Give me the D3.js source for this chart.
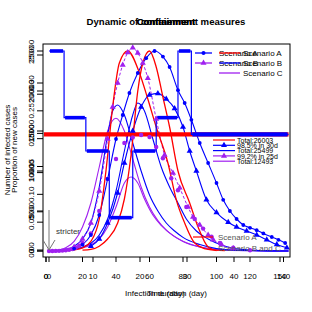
<!DOCTYPE html>
<html><head><meta charset="utf-8">
<script src="https://cdn.jsdelivr.net/npm/d3@7"></script>
<style>body{margin:0;background:#fff}svg{display:block}text{font-family:"Liberation Sans",Arial,sans-serif}</style>
</head><body>
<svg id="c" width="312" height="312"></svg>
<script>
// ---- data ----
const titles = ["Dynamic of containment measures", "Confinement", "Containment"];
const xTitles = ["Infection duration (day)", "Time (day)"];
const yTitles = ["Number of infected cases", "Proportion of new cases"];
const xTicks1 = [0,20,40,60,80,100,120,140];
const xTicks2 = [0,10,20,30,40];
const xTicks3 = [0,150];
const yTicksC = [0,5000,10000,15000,20000,25000];
const yTicksP = [0,0.05,0.10,0.15,0.20,0.25,0.30];
const yTicksD = [0,500,1000,1500,2000,2500];

const redA1 = [[10,50],[15,150],[20,400],[25,1200],[30,4000],[34,10000],[38,18000],[42,23500],[47,25000],[54,22250],[59,19000],[64,15500],[71,11000],[76,6400],[81,3500],[87,1000],[95,200],[105,50]];
const redA2 = [[20,100],[25,200],[30,600],[35,1500],[41,3500],[45,6500],[49,12000],[53,20000],[56,23500],[60,25000],[64,23000],[68,19250],[72,15500],[77,10000],[84,6000],[89,3000],[95,500],[100,50]];
const blueB1 = [[15,300],[20,800],[25,2000],[30,4500],[35,9000],[40,14000],[44,17000],[48,19750],[53,22250],[58,24100],[63,25000],[68,24300],[72,23000],[77,20100],[81,18500],[85,16400],[90,13500],[95,11000],[100,8500],[104,6400],[108,5000],[112,4000],[116,3250],[120,2900],[124,2600],[128,2200],[133,1750],[137,1400],[141,1000]];
const blueB2 = [[25,600],[30,1500],[35,3500],[41,7250],[45,11000],[50,15000],[55,18000],[60,19500],[65,19700],[70,19000],[75,17800],[80,15500],[84,12500],[88,10000],[94,6400],[100,4800],[107,3600],[112,3000],[118,2500],[124,2000],[130,1400],[136,800],[142,400]];
const purpleP1 = [[15,500],[20,1500],[25,3500],[30,7500],[35,14000],[38,18000],[41,21000],[44,23250],[47,24800],[50,25400],[53,24750],[56,23500],[59,21600],[64,16500],[69,12000],[74,9750],[78,7900],[83,5500],[86,4250],[90,3250],[95,2000],[98,1400],[103,800],[110,300]];
const purpleP2 = [[0,0],[2,0],[4,10],[6,20],[8,50],[10,90],[12,150],[14,250],[16,400],[18,650],[20,1000],[25,2200],[30,5000],[35,9000],[40,11500],[45,13500],[50,14200],[55,14500],[60,14250],[64,13000],[68,11600],[73,9100],[77,7600],[82,5500],[87,4000],[92,2800],[97,1800],[102,1000],[110,400],[120,100]];
const blueT1 = [[0,0],[10,200],[15,600],[20,1500],[25,3500],[30,8000],[35,14500],[38,17500],[41,18250],[45,17000],[50,13500],[55,10000],[60,7000],[65,5000],[70,3500],[75,2500],[80,1700],[90,800],[100,300],[110,100],[143,0]];
const blueT2 = [[0,0],[10,100],[20,500],[30,2000],[35,4000],[40,7500],[45,12500],[50,17000],[53,18500],[57,17500],[62,14000],[67,10500],[72,8000],[77,6000],[82,4000],[88,2500],[95,1500],[105,600],[115,200],[125,50],[143,0]];
const purpleU1 = [[0,0],[5,100],[10,400],[15,1200],[20,3000],[25,6000],[30,10500],[35,15000],[40,16600],[45,15000],[50,11500],[55,8000],[60,5500],[65,3800],[70,2600],[80,1200],[90,500],[100,200],[143,0]];
const purpleU2 = [[0,0],[10,100],[20,400],[30,1500],[35,3000],[40,5500],[45,8500],[49,9250],[53,8500],[57,6500],[62,4500],[67,3200],[75,1800],[85,800],[95,300],[105,100],[143,0]];
const steps = [[0,6],[9,4],[22,3],[36,1],[50,3],[64,4],[77,6],[85,3.5],[143,3.5]];
const threshold = [[-3,3.5],[143,3.5]];

const legendTop1 = ["Scenario A","Scenario B"];
const legendTop2 = ["Scenario A","Scenario B","Scenario C"];
const legendMid = ["Total:26003","98.5% in 30d","Total:25499","99.2% in 25d","Total:12493"];
const notes = ["Scenario A","Scenario B and C","stricter"];

// ---- drawing ----
const RED="#ff0000", BLUE="#0000ff", PURPLE="#a020f0";
const svg = d3.select("#c");
const x = d3.scaleLinear().domain([0,140]).range([49,283.5]);
const x2 = d3.scaleLinear().domain([0,40]).range([46,234]);
const x3 = d3.scaleLinear().domain([0,150]).range([46,280]);
const yC = d3.scaleLinear().domain([0,25000]).range([251,51]);
const yP = d3.scaleLinear().domain([0,0.3]).range([250,83]);
const yD = d3.scaleLinear().domain([0,2500]).range([251,55]);
const yL = d3.scaleLinear().domain([0,6]).range([251,51]);

const L = {l:43,r:290,t:44,b:257};
const plot = svg.append("g");
const line = d3.line().x(d=>x(d[0])).y(d=>yC(d[1])).curve(d3.curveMonotoneX);

const curves = [
  {d:purpleU1,c:PURPLE,w:1.1},{d:purpleU2,c:PURPLE,w:1.1},
  {d:blueT1,c:BLUE,w:1.1},{d:blueT2,c:BLUE,w:1.1},
  {d:purpleP1,c:PURPLE,w:1,dash:"3,2",m:"tri"},
  {d:purpleP2,c:PURPLE,w:0,m:"dot"},
  {d:blueB2,c:BLUE,w:1.1,m:"tri"},
  {d:blueB1,c:BLUE,w:1.1,m:"dot"},
  {d:redA1,c:RED,w:1.3},{d:redA2,c:RED,w:1.3}
];
curves.forEach(s=>{
  if(s.w>0) plot.append("path").attr("d",line(s.d)).attr("fill","none")
    .attr("stroke",s.c).attr("stroke-width",s.w).attr("stroke-dasharray",s.dash||null);
});
// threshold
plot.append("line").attr("x1",x(threshold[0][0])).attr("x2",x(threshold[1][0]))
  .attr("y1",yL(threshold[0][1])).attr("y2",yL(threshold[1][1]))
  .attr("stroke",RED).attr("stroke-width",4.2);
// containment step
const stepLine = d3.line().x(d=>x(d[0])).y(d=>yL(d[1])).curve(d3.curveStepAfter);
plot.append("path").attr("d",stepLine(steps)).attr("fill","none").attr("stroke",BLUE).attr("stroke-width",1.2);
for(let i=0;i<steps.length-1;i++){
  plot.append("line").attr("x1",x(steps[i][0])+1).attr("x2",x(steps[i+1][0])-1)
   .attr("y1",yL(steps[i][1])).attr("y2",yL(steps[i][1]))
   .attr("stroke",BLUE).attr("stroke-width",i===steps.length-2?4.4:3.6);
}
// markers
const tri = d3.symbol().type(d3.symbolTriangle).size(16);
curves.forEach(s=>{
  if(s.m==="dot") plot.selectAll(null).data(s.d).join("circle")
    .attr("cx",d=>x(d[0])).attr("cy",d=>yC(d[1])).attr("r",s.c===PURPLE?2.2:1.9).attr("fill",s.c);
  if(s.m==="tri") plot.selectAll(null).data(s.d).join("path").attr("d",tri)
    .attr("transform",d=>`translate(${x(d[0])},${yC(d[1])})`).attr("fill",s.c);
});

// box
svg.append("rect").attr("x",L.l).attr("y",L.t).attr("width",L.r-L.l).attr("height",L.b-L.t)
  .attr("fill","none").attr("stroke","#000").attr("stroke-width",1);

// x axes
function xAxis(sc,ticks){
  ticks.forEach(t=>{
    svg.append("line").attr("x1",sc(t)).attr("x2",sc(t)).attr("y1",L.b).attr("y2",L.b+5).attr("stroke","#000");
    svg.append("text").attr("x",sc(t)).attr("y",279).attr("text-anchor","middle").attr("font-size",8).text(t);
  });
}
xAxis(x,xTicks1); xAxis(x2,xTicks2); xAxis(x3,xTicks3);
// y axes (labels parallel to axis)
function yAxis(sc,ticks,fmt){
  ticks.forEach(t=>{
    svg.append("line").attr("x1",L.l-6).attr("x2",L.l).attr("y1",sc(t)).attr("y2",sc(t)).attr("stroke","#000");
    svg.append("text").attr("transform",`translate(33.5,${sc(t)}) rotate(-90)`).attr("text-anchor","middle")
      .attr("font-size",8).text(fmt(t));
  });
}
yAxis(yC,yTicksC,d=>String(d)); yAxis(yP,yTicksP,d3.format(".2f")); yAxis(yD,yTicksD,d=>String(d));

// titles
titles.forEach(t=>svg.append("text").attr("x",166).attr("y",25).attr("text-anchor","middle")
  .attr("font-size",9.6).attr("font-weight","bold").text(t));
xTitles.forEach(t=>svg.append("text").attr("x",166).attr("y",296).attr("text-anchor","middle").attr("font-size",8).text(t));
[10,17].forEach((px,i)=>svg.append("text").attr("transform",`translate(${px},150) rotate(-90)`)
  .attr("text-anchor","middle").attr("font-size",8).text(yTitles[i]));

// legends top
const lt1c=[BLUE,PURPLE], lt1m=["dot","tri"];
legendTop1.forEach((t,i)=>{
  const yy=53+i*10;
  svg.append("line").attr("x1",195).attr("x2",212).attr("y1",yy).attr("y2",yy).attr("stroke",lt1c[i]).attr("stroke-width",1.3);
  if(lt1m[i]==="dot") svg.append("circle").attr("cx",203.5).attr("cy",yy).attr("r",2).attr("fill",lt1c[i]);
  else svg.append("path").attr("d",tri).attr("transform",`translate(203.5,${yy})`).attr("fill",lt1c[i]);
  svg.append("text").attr("x",219).attr("y",yy+3).attr("font-size",8).text(t);
});
const lt2c=[RED,BLUE,PURPLE];
legendTop2.forEach((t,i)=>{
  const yy=53+i*10;
  svg.append("line").attr("x1",219).attr("x2",240).attr("y1",yy).attr("y2",yy).attr("stroke",lt2c[i]).attr("stroke-width",1.3);
  svg.append("text").attr("x",243).attr("y",yy+3).attr("font-size",8).text(t);
});
// middle legend
const lmc=[RED,BLUE,BLUE,PURPLE,PURPLE], lmm=[0,1,0,1,0];
legendMid.forEach((t,i)=>{
  const yy=140+i*5.3;
  svg.append("line").attr("x1",213).attr("x2",235).attr("y1",yy).attr("y2",yy).attr("stroke",lmc[i]).attr("stroke-width",1.2);
  if(lmm[i]) svg.append("path").attr("d",tri).attr("transform",`translate(224,${yy})`).attr("fill",lmc[i]);
  svg.append("text").attr("x",237).attr("y",yy+2.6).attr("font-size",7).text(t);
});
// notes
svg.append("line").attr("x1",193).attr("x2",213).attr("y1",237).attr("y2",237).attr("stroke",RED).attr("stroke-width",1.2);
svg.append("text").attr("x",218).attr("y",240).attr("font-size",8).attr("fill","#555").text(notes[0]);
svg.append("text").attr("x",218).attr("y",251).attr("font-size",8).attr("fill","#555").text(notes[1]);
svg.append("text").attr("x",56).attr("y",234).attr("font-size",8).attr("fill","#333").text(notes[2]);
const g="#777";
svg.append("line").attr("x1",49).attr("x2",49).attr("y1",210).attr("y2",250).attr("stroke",g);
svg.append("line").attr("x1",43).attr("x2",49).attr("y1",240).attr("y2",250).attr("stroke",g);
svg.append("line").attr("x1",55).attr("x2",49).attr("y1",240).attr("y2",250).attr("stroke",g);
</script>
</body></html>
